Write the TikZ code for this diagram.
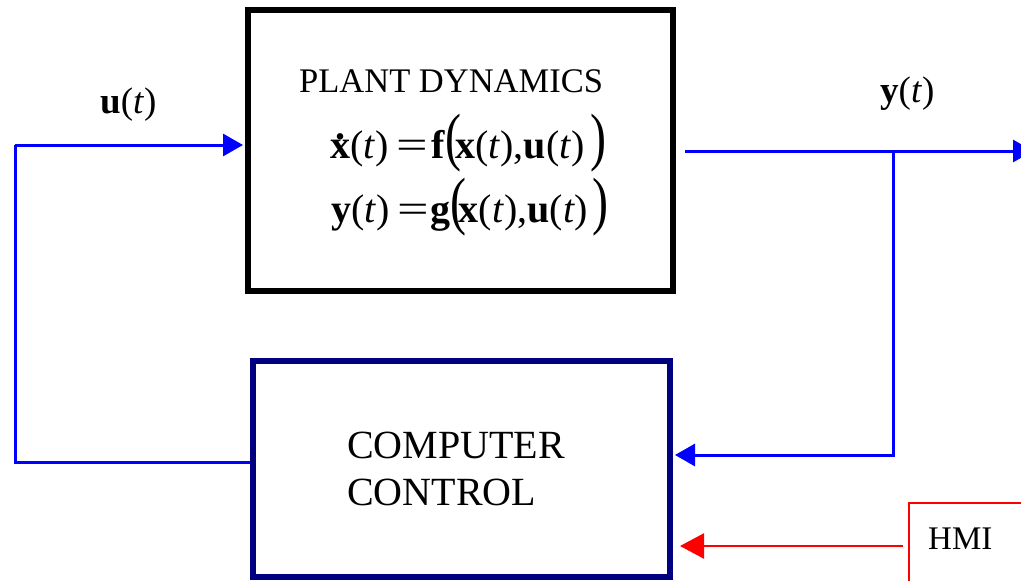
\documentclass[tikz,border=0pt]{standalone}
\usepackage{fontspec}
\usepackage{graphicx}
\setmainfont{Liberation Serif}
\usetikzlibrary{arrows.meta}
\definecolor{sigblue}{HTML}{0000FF}
\definecolor{boxnavy}{HTML}{000080}
\definecolor{hmired}{HTML}{FF0000}
\newcommand{\myt}{\textit{t}}
\newcommand{\xdot}{\textbf{x}\llap{\raisebox{0.46em}{\textbf{.}}\hspace{0.125em}}}
\newcommand{\bigLP}{\scalebox{1.2}[1.6]{(}}
\newcommand{\bigRP}{\scalebox{1.2}[1.6]{)}}
\newcommand{\wideeq}{\scalebox{1.4}[1]{=}}
\begin{document}
\begin{tikzpicture}[x=1pt,y=-1pt,
  sig/.style={draw=sigblue,line width=3pt},
  sigtip/.style={-{Triangle[length=20pt,width=22pt]}},
  hmisig/.style={draw=hmired,line width=2.5pt,-{Triangle[length=24pt,width=25pt]}},
  lbl/.style={inner sep=0pt,font=\fontsize{37}{40}\selectfont},
  eqn/.style={inner sep=0pt,font=\fontsize{40}{42}\selectfont},
  ]
\useasboundingbox (0,0) rectangle (1021,581);
\clip (0,0) rectangle (1021,581);
% blocks
\node[draw=black,line width=6pt,minimum width=425pt,minimum height=281pt,inner sep=0pt] (plant) at (460.5,150.5) {};
\node[draw=boxnavy,line width=6pt,minimum width=417pt,minimum height=216pt,inner sep=0pt] (ctrl) at (461.5,469) {};
% plant texts
\node[anchor=base west,inner sep=0pt,font=\fontsize{34.5}{36}\selectfont] (title) at (299,92) {PLANT DYNAMICS};
\node[eqn,anchor=base west] (eq1) at (330,158) {\xdot(\myt)\hspace{0.2em}\wideeq\hspace{0.08em}\textbf{f}\bigLP\hspace{-0.15em}\textbf{x}(\myt),\textbf{u}(\myt)\hspace{0.15em}\bigRP};
\node[eqn,anchor=base west] (eq2) at (331,222) {\textbf{y}(\myt)\hspace{0.2em}\wideeq\hspace{0.04em}\textbf{g}\bigLP\hspace{-0.2em}\textbf{x}(\myt),\textbf{u}(\myt)\hspace{0.1em}\bigRP};
% controller text
\node[anchor=base west,inner sep=0pt,align=left,font=\fontsize{40}{47}\selectfont] (ctext) at (347,505) {COMPUTER\\CONTROL};
% HMI
\draw[hmired,line width=2pt] (909,600) -- (909,503) -- (1040,503);
\node[anchor=base west,inner sep=0pt,font=\fontsize{33}{36}\selectfont] (hmi) at (928,549) {HMI};
\coordinate (hmiout) at (903,546);
\draw[hmisig] (hmiout) -- ([xshift=7pt]ctrl.east |- hmiout);
% signal labels
\node[lbl,anchor=base west] (ulbl) at (100,113) {\textbf{u}(\myt)};
\node[lbl,anchor=base west] (ylbl) at (880,102) {\textbf{y}(\myt)};
% input loop
\coordinate (ubl) at (15,462);
\coordinate (utl) at (15,145);
\draw[sig] (ctrl.west |- ubl) -- (ubl) -- (utl);
\draw[sig,sigtip] (utl) -- ([xshift=-2pt]plant.west |- utl);
% output
\coordinate (yout) at (685,151);
\coordinate (yend) at (1033,151);
\coordinate (ybr) at (893,151);
\coordinate (ybd) at (893,455);
\draw[sig,sigtip] (yout) -- (yend);
\draw[sig,sigtip] (ybr) -- (ybd) -- ([xshift=2pt]ctrl.east |- ybd);
\end{tikzpicture}
\end{document}
